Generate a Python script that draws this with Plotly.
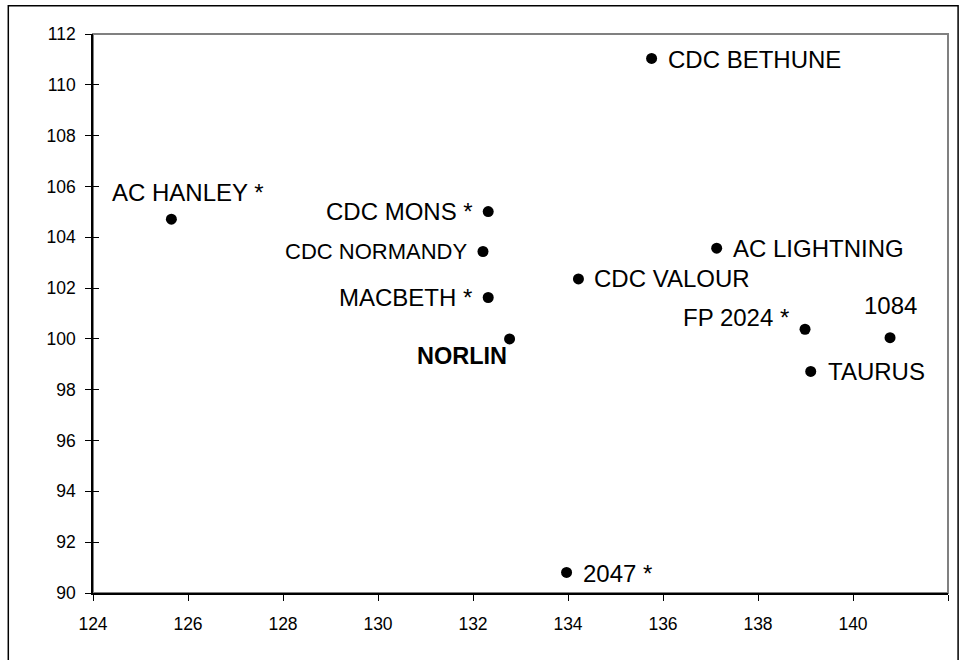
import plotly.graph_objects as go

# ---- data ----
names = ["CDC BETHUNE", "AC HANLEY *", "CDC MONS *", "CDC NORMANDY", "MACBETH *",
         "NORLIN", "CDC VALOUR", "AC LIGHTNING", "FP 2024 *", "1084", "TAURUS", "2047 *"]
x_vals = [135.76, 125.65, 132.32, 132.21, 132.32, 132.77, 134.22, 137.13, 138.99, 140.78, 139.11, 133.97]
y_vals = [111.04, 104.71, 105.01, 103.44, 101.63, 100.00, 102.36, 103.57, 100.38, 100.05, 98.72, 90.81]
x_ticks = [124, 126, 128, 130, 132, 134, 136, 138, 140, 142]
y_ticks = [90, 92, 94, 96, 98, 100, 102, 104, 106, 108, 110, 112]

# ---- label styles (xanchor, yanchor, x shift px, y shift px, size, bold) ----
label_style = [
    ("left", "middle", 14, -1, 24, False),
    ("center", "middle", 17, 27, 24, False),
    ("right", "middle", -13, 0, 24, False),
    ("right", "middle", -14, 0, 22, False),
    ("right", "middle", -14, 0, 24, False),
    ("right", "middle", -1, -17, 23.5, True),
    ("left", "middle", 14, 0, 24, False),
    ("left", "middle", 14, 0, 24, False),
    ("right", "middle", -14, 12, 24, False),
    ("center", "middle", 0, 32, 24, False),
    ("left", "middle", 15, 0, 24, False),
    ("left", "middle", 14, -1, 24, False),
]

FONT = "Liberation Sans, Arial, sans-serif"
W, H = 959, 660
ML, MR, MT, MB = 93, 11, 34, 67
PW = W - ML - MR
PH = H - MT - MB

fig = go.Figure()
fig.add_trace(go.Scatter(
    x=x_vals, y=y_vals, mode="markers",
    marker=dict(size=11, color="black"),
    hoverinfo="skip", showlegend=False,
))
# invisible trace to carry the inside-tick overlay axis
fig.add_trace(go.Scatter(
    x=x_vals, y=y_vals, mode="markers", xaxis="x", yaxis="y2",
    marker=dict(size=1, opacity=0), hoverinfo="skip", showlegend=False,
))

for name, xv, yv, st in zip(names, x_vals, y_vals, label_style):
    xa, ya, dx, dy, sz, bold = st
    fig.add_annotation(
        x=xv, y=yv, xref="x", yref="y",
        text=f"<b>{name}</b>" if bold else name,
        showarrow=False, xanchor=xa, yanchor=ya,
        xshift=dx, yshift=dy,
        font=dict(family=FONT, size=sz, color="black"),
    )

# plot-area frame (gray) and outer chart border
fig.add_shape(type="rect", xref="paper", yref="paper", x0=0, x1=1, y0=0, y1=1,
              line=dict(color="#808080", width=2), layer="below")
fig.add_shape(type="rect", xref="paper", yref="paper",
              x0=(8.3 - ML) / PW, x1=(W - 0.9 - ML) / PW,
              y0=-0.2, y1=(PH + MT - 5.7) / PH,
              line=dict(color="black", width=1.5), layer="above")

axis_common = dict(showgrid=False, zeroline=False, showline=True, linecolor="black",
                   linewidth=1.5, tickcolor="black", tickwidth=1.3,
                   tickfont=dict(family=FONT, size=17.5, color="black"))

fig.update_layout(
    width=W, height=H, autosize=False,
    margin=dict(l=ML, r=MR, t=MT, b=MB),
    paper_bgcolor="white", plot_bgcolor="white",
    showlegend=False,
    xaxis=dict(range=[124, 142], tickvals=x_ticks, ticks="outside", ticklen=6,
               ticklabelstandoff=8, **axis_common),
    yaxis=dict(range=[90, 112], tickvals=y_ticks, ticks="outside", ticklen=6,
               ticklabelstandoff=6, **axis_common),
    yaxis2=dict(range=[90, 112], tickvals=y_ticks, overlaying="y", side="left",
                ticks="inside", ticklen=6, tickcolor="black", tickwidth=1.3,
                showticklabels=False, showgrid=False, zeroline=False, showline=False),
)

fig.write_html(
    "out.html",
    config={"responsive": False, "displayModeBar": False},
    post_script="document.body.style.margin='0';document.body.style.overflow='hidden';",
)
